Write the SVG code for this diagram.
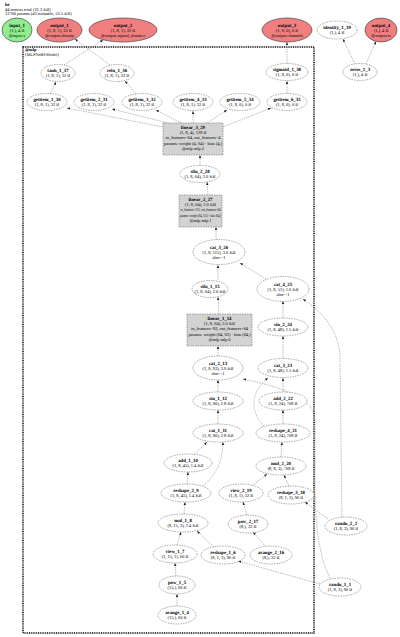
<svg xmlns="http://www.w3.org/2000/svg" width="400" height="637" viewBox="0 0 400 637">
<style>
text{font-family:"Liberation Serif","Times New Roman",serif;text-anchor:middle;fill:#000;text-rendering:geometricPrecision}
.b{font-weight:bold;font-size:4.8px}
.d{font-size:4.4px}
.h{text-anchor:start}
.n{fill:#fff;stroke:#555;stroke-width:.5;stroke-dasharray:1.5,1}
.o{fill:#f08080;stroke:#333;stroke-width:.6}
.g{fill:#90ee90;stroke:#333;stroke-width:.6}
.r{fill:#d3d3d3;stroke:#555;stroke-width:.5;stroke-dasharray:1.5,1}
.e path{fill:none;stroke:#777;stroke-width:.5;stroke-dasharray:1.5,1;marker-end:url(#a)}
</style>
<defs>
<marker id="a" viewBox="0 0 10 10" refX="10" refY="5" markerWidth="3" markerHeight="3" orient="auto" markerUnits="userSpaceOnUse"><path d="M0,1 L10,5 L0,9 z" fill="#222"/></marker>
</defs>
<rect width="400" height="637" fill="#fff"/>
<g id="header">
<text x="5" y="5.5" class="b h">hr</text>
<text x="5" y="10.5" class="d h">44 tensors total (21.2 KB)</text>
<text x="5" y="15" class="d h">13700 params (all trainable, 53.5 KB)</text>
</g>
<g id="cluster_mlp">
<rect x="23" y="47" width="291" height="586" fill="none" stroke="#000" stroke-width="1.5" stroke-dasharray="1,0.8"/>
<text x="25" y="51" class="b h" style="font-size:4.4px">@mlp</text>
<text x="25" y="55.5" class="d h">(MLPNeRFModel)</text>
</g>
<g class="e" id="edges">
<path d="M177,606 L177,594"/>
<path d="M176,576 L175,563"/>
<path d="M177,545 L181,532"/>
<path d="M214,547 L197,531"/>
<path d="M320,584 L238,561"/>
<path d="M184,514 L185,502"/>
<path d="M187,484 L188,472"/>
<path d="M194,455 L207,442"/>
<path d="M203,486 C215,476 223,462 223,442"/>
<path d="M218,424 L218,410"/>
<path d="M218,392 L218,380"/>
<path d="M218,356 L218,346"/>
<path d="M219,314 L218,297"/>
<path d="M218,280 L218,265"/>
<path d="M266,279 L240,263"/>
<path d="M216,240 L216,227"/>
<path d="M208,195 L207,182"/>
<path d="M200,165 L200,155"/>
<path d="M163,127 L67,108"/>
<path d="M168,123 L112,109"/>
<path d="M181,123 L156,110"/>
<path d="M193,123 L193,111"/>
<path d="M207,123 L227,110"/>
<path d="M223,127 L271,108"/>
<path d="M50,94 L56,82"/>
<path d="M136,94 L125,81"/>
<path d="M287,93 L287,81"/>
<path d="M287,63 L287,42"/>
<path d="M64,65 L103,40"/>
<path d="M110,65 L75,39"/>
<path d="M355,64 L343,39"/>
<path d="M366,64 L376,41.5"/>
<path d="M266,547 L253,532"/>
<path d="M247,515 L243,502"/>
<path d="M252,486 L267,474"/>
<path d="M289,486 L284,475"/>
<path d="M328,519 L305,502"/>
<path d="M281,457 L282,442"/>
<path d="M283,424 L283,410"/>
<path d="M264,426 C250,412 250,392 268,378"/>
<path d="M283,392 L283,378"/>
<path d="M283,358 L283,336"/>
<path d="M283,318 L283,301"/>
<path d="M330,578 C318,555 315,520 315,480 L315,420 C315,396 275,386 243,379"/>
<path d="M342,517 L340,360 C340,330 322,312 303,299"/>
</g>
<g id="input_1"><ellipse cx="17" cy="30" rx="15" ry="12" class="g"/><text x="17" y="26.5" class="b">input_1</text><text x="17" y="31.5" class="d">(1,), 4 B</text><text x="17" y="36.5" class="d">@input.x</text></g>
<g id="output_1"><ellipse cx="59.5" cy="30" rx="22.5" ry="12" class="o"/><text x="59.5" y="26.5" class="b">output_1</text><text x="59.5" y="31.5" class="d">(1, 8, 1), 32 B</text><text x="59.5" y="36.5" class="d">@output.density</text></g>
<g id="output_2"><ellipse cx="123" cy="30" rx="34" ry="12" class="o"/><text x="123" y="26.5" class="b">output_2</text><text x="123" y="31.5" class="d">(1, 8, 1), 32 B</text><text x="123" y="36.5" class="d">@output.signed_distance</text></g>
<g id="output_3"><ellipse cx="287" cy="30" rx="25" ry="12" class="o"/><text x="287" y="26.5" class="b">output_3</text><text x="287" y="31.5" class="d">(1, 8, 0), 0 B</text><text x="287" y="36.5" class="d">@output.channels</text></g>
<g id="identity_1_39"><ellipse cx="337" cy="30" rx="20" ry="9" class="n"/><text x="337" y="29" class="b">identity_1_39</text><text x="337" y="34.4" class="d">(1,), 4 B</text></g>
<g id="output_4"><ellipse cx="381" cy="30" rx="16" ry="12" class="o"/><text x="381" y="26.5" class="b">output_4</text><text x="381" y="31.5" class="d">(1,), 4 B</text><text x="381" y="36.5" class="d">@output.ts</text></g>
<g id="tanh_1_37"><ellipse cx="58" cy="73" rx="17" ry="8.5" class="n"/><text x="58" y="72.2" class="b">tanh_1_37</text><text x="58" y="77.4" class="d">(1, 8, 1), 32 B</text></g>
<g id="relu_1_36"><ellipse cx="117" cy="73" rx="17" ry="8.5" class="n"/><text x="117" y="72.2" class="b">relu_1_36</text><text x="117" y="77.4" class="d">(1, 8, 1), 32 B</text></g>
<g id="sigmoid_1_38"><ellipse cx="287" cy="72" rx="21" ry="8.5" class="n"/><text x="287" y="71.2" class="b">sigmoid_1_38</text><text x="287" y="76.4" class="d">(1, 8, 0), 0 B</text></g>
<g id="zeros_1_3"><ellipse cx="360" cy="72" rx="17" ry="8.5" class="n"/><text x="360" y="71.2" class="b">zeros_1_3</text><text x="360" y="76.4" class="d">(1,), 4 B</text></g>
<g id="getitem_1_30"><ellipse cx="47" cy="102" rx="20" ry="8.5" class="n"/><text x="47" y="101.2" class="b">getitem_1_30</text><text x="47" y="106.4" class="d">(1, 8, 1), 32 B</text></g>
<g id="getitem_2_31"><ellipse cx="94" cy="102" rx="20" ry="8.5" class="n"/><text x="94" y="101.2" class="b">getitem_2_31</text><text x="94" y="106.4" class="d">(1, 8, 1), 32 B</text></g>
<g id="getitem_3_32"><ellipse cx="142" cy="102" rx="20" ry="8.5" class="n"/><text x="142" y="101.2" class="b">getitem_3_32</text><text x="142" y="106.4" class="d">(1, 8, 1), 32 B</text></g>
<g id="getitem_4_33"><ellipse cx="193" cy="102" rx="20" ry="8.5" class="n"/><text x="193" y="101.2" class="b">getitem_4_33</text><text x="193" y="106.4" class="d">(1, 8, 1), 32 B</text></g>
<g id="getitem_5_34"><ellipse cx="240" cy="102" rx="20" ry="8.5" class="n"/><text x="240" y="101.2" class="b">getitem_5_34</text><text x="240" y="106.4" class="d">(1, 8, 0), 0 B</text></g>
<g id="getitem_6_35"><ellipse cx="287" cy="102" rx="20" ry="8.5" class="n"/><text x="287" y="101.2" class="b">getitem_6_35</text><text x="287" y="106.4" class="d">(1, 8, 0), 0 B</text></g>
<g id="linear_3_29"><rect x="163" y="123" width="60" height="32" class="r"/><text x="193" y="128.5" class="b">linear_3_29</text><text x="193" y="133.8" class="d">(1, 8, 4), 128 B</text><text x="193" y="139.3" class="d">in_features=64, out_features=4</text><text x="193" y="144.6" class="d">params: weight (4, 64) · bias (4,)</text><text x="193" y="150" class="d">@mlp.mlp.2</text></g>
<g id="silu_2_28"><ellipse cx="200" cy="174" rx="20" ry="8.5" class="n"/><text x="200" y="173.2" class="b">silu_2_28</text><text x="200" y="178.4" class="d">(1, 8, 64), 2.0 KB</text></g>
<g id="linear_2_27"><rect x="179" y="195" width="43" height="32" class="r"/><text x="200.5" y="200.5" class="b">linear_2_27</text><text x="200.5" y="205.8" class="d">(1, 8, 64), 2.0 KB</text><text x="200.5" y="211.3" class="d" textLength="40" lengthAdjust="spacingAndGlyphs">in_features=115, out_features=64</text><text x="200.5" y="216.6" class="d" textLength="41" lengthAdjust="spacingAndGlyphs">params: weight (64, 115) · bias (64,)</text><text x="200.5" y="222" class="d">@mlp.mlp.1</text></g>
<g id="cat_3_26"><ellipse cx="219" cy="252" rx="26" ry="12.5" class="n"/><text x="219" y="248.5" class="b">cat_3_26</text><text x="219" y="253.5" class="d">(1, 8, 115), 3.6 KB</text><text x="219" y="258.5" class="d">dim=-1</text></g>
<g id="silu_1_15"><ellipse cx="210" cy="289" rx="18" ry="8.5" class="n"/><text x="210" y="288.2" class="b">silu_1_15</text><text x="210" y="293.4" class="d">(1, 8, 64), 2.0 KB</text></g>
<g id="cat_4_25"><ellipse cx="283" cy="289" rx="26" ry="12.5" class="n"/><text x="283" y="285.5" class="b">cat_4_25</text><text x="283" y="290.5" class="d">(1, 8, 51), 1.6 KB</text><text x="283" y="295.5" class="d">dim=-1</text></g>
<g id="linear_1_14"><rect x="187" y="314" width="65" height="32" class="r"/><text x="219.5" y="319.5" class="b">linear_1_14</text><text x="219.5" y="324.8" class="d">(1, 8, 64), 2.0 KB</text><text x="219.5" y="330.3" class="d">in_features=93, out_features=64</text><text x="219.5" y="335.6" class="d">params: weight (64, 93) · bias (64,)</text><text x="219.5" y="341" class="d">@mlp.mlp.0</text></g>
<g id="sin_2_24"><ellipse cx="283" cy="327" rx="25" ry="9" class="n"/><text x="283" y="326.2" class="b">sin_2_24</text><text x="283" y="331.4" class="d">(1, 8, 48), 1.5 KB</text></g>
<g id="cat_2_13"><ellipse cx="218" cy="368" rx="25" ry="12" class="n"/><text x="218" y="364.5" class="b">cat_2_13</text><text x="218" y="369.5" class="d">(1, 8, 93), 2.9 KB</text><text x="218" y="374.5" class="d">dim=-1</text></g>
<g id="cat_3_23"><ellipse cx="283" cy="368" rx="25" ry="9.5" class="n"/><text x="283" y="367.2" class="b">cat_3_23</text><text x="283" y="372.4" class="d">(1, 8, 48), 1.5 KB</text></g>
<g id="sin_1_12"><ellipse cx="218" cy="401" rx="25" ry="9" class="n"/><text x="218" y="400.2" class="b">sin_1_12</text><text x="218" y="405.4" class="d">(1, 8, 90), 2.8 KB</text></g>
<g id="add_2_22"><ellipse cx="283" cy="401" rx="24" ry="9" class="n"/><text x="283" y="400.2" class="b">add_2_22</text><text x="283" y="405.4" class="d">(1, 8, 24), 768 B</text></g>
<g id="cat_1_11"><ellipse cx="218" cy="433" rx="25" ry="9" class="n"/><text x="218" y="432.2" class="b">cat_1_11</text><text x="218" y="437.4" class="d">(1, 8, 90), 2.8 KB</text></g>
<g id="reshape_4_21"><ellipse cx="283" cy="433" rx="27" ry="9" class="n"/><text x="283" y="432.2" class="b">reshape_4_21</text><text x="283" y="437.4" class="d">(1, 8, 24), 768 B</text></g>
<g id="add_1_10"><ellipse cx="188" cy="463" rx="24" ry="9" class="n"/><text x="188" y="462.2" class="b">add_1_10</text><text x="188" y="467.4" class="d">(1, 8, 45), 1.4 KB</text></g>
<g id="mul_2_20"><ellipse cx="281" cy="466" rx="25" ry="9" class="n"/><text x="281" y="465.2" class="b">mul_2_20</text><text x="281" y="470.4" class="d">(8, 8, 3), 768 B</text></g>
<g id="reshape_2_9"><ellipse cx="186" cy="493" rx="25" ry="9" class="n"/><text x="186" y="492.2" class="b">reshape_2_9</text><text x="186" y="497.4" class="d">(1, 8, 45), 1.4 KB</text></g>
<g id="view_2_19"><ellipse cx="241" cy="493" rx="22" ry="9" class="n"/><text x="241" y="492.2" class="b">view_2_19</text><text x="241" y="497.4" class="d">(1, 8, 1), 32 B</text></g>
<g id="reshape_3_18"><ellipse cx="291" cy="495" rx="23" ry="9" class="n"/><text x="291" y="494.2" class="b">reshape_3_18</text><text x="291" y="499.4" class="d">(8, 1, 3), 96 B</text></g>
<g id="mul_1_8"><ellipse cx="183" cy="523" rx="25" ry="9" class="n"/><text x="183" y="522.2" class="b">mul_1_8</text><text x="183" y="527.4" class="d">(8, 15, 3), 1.4 KB</text></g>
<g id="pow_2_17"><ellipse cx="248" cy="524" rx="20" ry="9" class="n"/><text x="248" y="523.2" class="b">pow_2_17</text><text x="248" y="528.4" class="d">(8,), 32 B</text></g>
<g id="randn_2_2"><ellipse cx="346" cy="526" rx="21" ry="9" class="n"/><text x="346" y="525.2" class="b">randn_2_2</text><text x="346" y="530.4" class="d">(1, 8, 3), 96 B</text></g>
<g id="view_1_7"><ellipse cx="175" cy="554" rx="22" ry="9" class="n"/><text x="175" y="553.2" class="b">view_1_7</text><text x="175" y="558.4" class="d">(1, 15, 1), 60 B</text></g>
<g id="reshape_1_6"><ellipse cx="223" cy="555" rx="22" ry="9" class="n"/><text x="223" y="554.2" class="b">reshape_1_6</text><text x="223" y="559.4" class="d">(8, 1, 3), 96 B</text></g>
<g id="arange_2_16"><ellipse cx="271" cy="555" rx="21" ry="9" class="n"/><text x="271" y="554.2" class="b">arange_2_16</text><text x="271" y="559.4" class="d">(8,), 32 B</text></g>
<g id="randn_1_1"><ellipse cx="340" cy="587" rx="21" ry="9" class="n"/><text x="340" y="586.2" class="b">randn_1_1</text><text x="340" y="591.4" class="d">(1, 8, 3), 96 B</text></g>
<g id="pow_1_5"><ellipse cx="177" cy="585" rx="18" ry="9" class="n"/><text x="177" y="584.2" class="b">pow_1_5</text><text x="177" y="589.4" class="d">(15,), 60 B</text></g>
<g id="arange_1_4"><ellipse cx="177" cy="615" rx="19" ry="9" class="n"/><text x="177" y="614.2" class="b">arange_1_4</text><text x="177" y="619.4" class="d">(15,), 60 B</text></g>
</svg>
